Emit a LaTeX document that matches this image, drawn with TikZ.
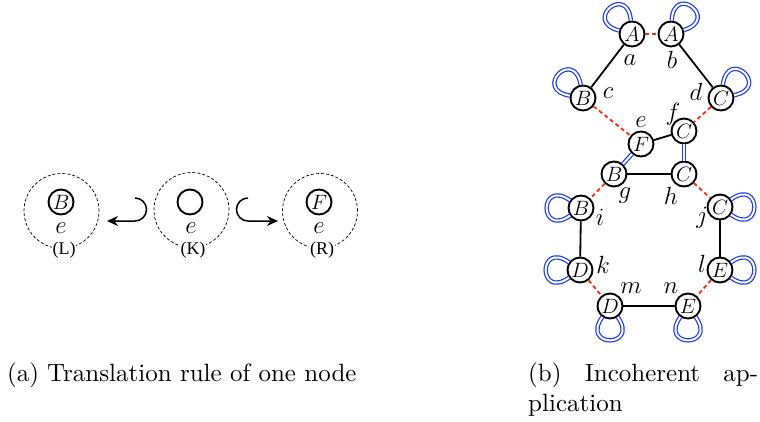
\documentclass[tikz,border=0pt]{standalone}
\usepackage{fontspec}
\newfontfamily\timesf{Liberation Serif}
\newfontfamily\capfont{lmroman10-regular}[Extension=.otf]
\usetikzlibrary{arrows.meta}
\definecolor{rd}{RGB}{245,45,20}
\definecolor{bl}{RGB}{25,55,250}
\begin{document}
\begin{tikzpicture}[x=1pt,y=1pt,
  gnode/.style={circle, draw, line width=1.9pt, minimum size=25pt, inner sep=0pt, font=\fontsize{21}{21}\selectfont},
  lbl/.style={inner sep=0pt, font=\fontsize{24}{24}\selectfont},
  blk/.style={line width=1.8pt},
  rdash/.style={draw=rd, line width=1.8pt, dash pattern=on 4pt off 3pt},
  bdbl/.style={draw=bl, double=white, double distance=2pt, line width=1.2pt},
  bloop/.style 2 args={bdbl, out=#1, in=#2, looseness=1, min distance=38pt},
  dcirc/.style={circle, draw, line width=0.7pt, dash pattern=on 3pt off 2pt, minimum size=75pt, inner sep=0pt},
  rlab/.style={fill=white, inner sep=1pt, font=\timesf\fontsize{18}{18}\selectfont},
  elab/.style={inner sep=0pt, font=\fontsize{26}{26}\selectfont},
  hookarr/.style={line width=1.5pt, -{Stealth[length=11pt,width=10pt]}},
  captxt/.style={inner sep=0pt, font=\capfont\fontsize{25}{30}\selectfont}
]
\useasboundingbox (0,0) rectangle (760,-422);
\fill[white] (0,0) rectangle (760,-422);

% ---------- (a) ----------
\node (Lc) [dcirc] at (61.5,-211) {};
\node (Kc) [dcirc] at (191.5,-210) {};
\node (Rc) [dcirc] at (320,-211) {};
\node (LB) [gnode] at (61,-202) {$B$};
\node (KO) [gnode] at (190,-202) {};
\node (RF) [gnode] at (319,-202) {$F$};
\node (Le) [elab] at (61,-228) {$e$};
\node (Ke) [elab] at (191,-228) {$e$};
\node (Re) [elab] at (319,-228) {$e$};
\node (Ll) [rlab] at (64,-250) {(L)};
\node (Kl) [rlab] at (193,-250) {(K)};
\node (Rl) [rlab] at (322,-250) {(R)};
\coordinate (hl) at (135,-198);
\coordinate (hlend) at (107,-221);
\coordinate (hr) at (248,-198);
\coordinate (hrend) at (278,-221);
\draw[hookarr] (hl) arc[start angle=90, end angle=-90, radius=11.5] -- (hlend);
\draw[hookarr] (hr) arc[start angle=90, end angle=270, radius=11.5] -- (hrend);

% ---------- (b) ----------
\node (A1) [gnode] at (632,-34) {$A$};
\node (A2) [gnode] at (671,-34) {$A$};
\node (Bt) [gnode] at (583,-98) {$B$};
\node (Ct) [gnode] at (721,-98) {$C$};
\node (F)  [gnode] at (641,-144) {$F$};
\node (Cm) [gnode] at (684,-131) {$C$};
\node (Bm) [gnode] at (614,-174) {$B$};
\node (Cn) [gnode] at (684,-174) {$C$};
\node (Bl) [gnode] at (581,-208) {$B$};
\node (Cr) [gnode] at (720,-207) {$C$};
\node (Dl) [gnode] at (580,-270) {$D$};
\node (Er) [gnode] at (720,-270) {$E$};
\node (Db) [gnode] at (610,-306) {$D$};
\node (Eb) [gnode] at (688,-306) {$E$};

\draw[blk] (A1) -- (Bt);
\draw[blk] (A2) -- (Ct);
\draw[blk] (F) -- (Cm);
\draw[blk] (Bm) -- (Cn);
\draw[blk] (Bl) -- (Dl);
\draw[blk] (Cr) -- (Er);
\draw[blk] (Db) -- (Eb);

\draw[rdash] (A1) -- (A2);
\draw[rdash] (Bt) -- (F);
\draw[rdash] (Ct) -- (Cm);
\draw[rdash] (Bm) -- (Bl);
\draw[rdash] (Cn) -- (Cr);
\draw[rdash] (Dl) -- (Db);
\draw[rdash] (Er) -- (Eb);

\draw[bdbl] (F) -- (Bm);
\draw[bdbl] (Cm) -- (Cn);

\path (A1) edge[bloop={165}{95}] (A1);
\path (A2) edge[bloop={17}{87}] (A2);
\path (Bt) edge[bloop={170}{100}] (Bt);
\path (Ct) edge[bloop={12}{82}] (Ct);
\path (Bl) edge[bloop={145}{215}] (Bl);
\path (Cr) edge[bloop={35}{-35}] (Cr);
\path (Dl) edge[bloop={145}{215}] (Dl);
\path (Er) edge[bloop={35}{-35}] (Er);
\path (Db) edge[bloop={235}{305}] (Db);
\path (Eb) edge[bloop={235}{305}] (Eb);

\node (la) [lbl] at (630,-60) {$a$};
\node (lb) [lbl] at (672,-60) {$b$};
\node (lc) [lbl] at (608,-93) {$c$};
\node (ld) [lbl] at (696,-92) {$d$};
\node (le) [lbl] at (641,-122) {$e$};
\node (lf) [lbl] at (673,-114) {$f$};
\node (lg) [lbl] at (625,-196) {$g$};
\node (lh) [lbl] at (671,-196) {$h$};
\node (li) [lbl] at (600,-217) {$i$};
\node (lj) [lbl] at (702,-218) {$j$};
\node (lk) [lbl] at (603,-265) {$k$};
\node (ll) [lbl] at (702,-264) {$l$};
\node (lm) [lbl] at (631,-288) {$m$};
\node (ln) [lbl] at (671,-288) {$n$};

% ---------- captions ----------
\node (capa) [captxt, anchor=base west] at (7,-381) {(a)\hspace{8pt}Translation rule of one node};
\node (capb1) [captxt, anchor=base west] at (528,-381) {\makebox[230pt][s]{(b) Incoherent ap-}};
\node (capb2) [captxt, anchor=base west] at (528,-411) {plication};
\end{tikzpicture}
\end{document}
